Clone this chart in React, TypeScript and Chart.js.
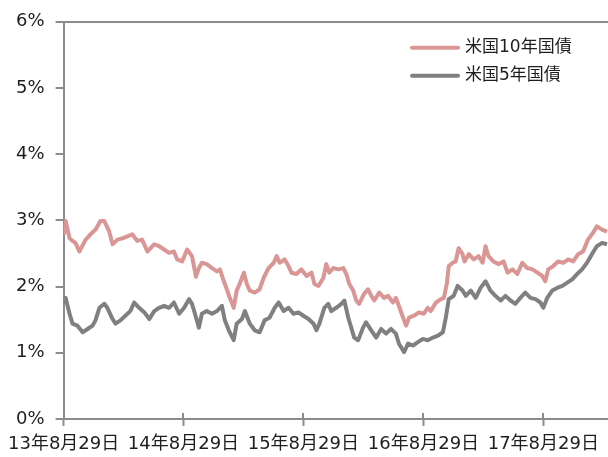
import React, { useEffect, useRef } from "react";
import { Chart, registerables } from "chart.js";

Chart.register(...registerables);

// Day offsets from 2013-08-29 and yields (%)
const TEN_DAYS = [0,6,18,27,36,48,67,82,97,112,124,139,149,164,179,194,209,224,239,255,276,291,306,321,336,346,361,376,391,403,412,421,436,452,467,476,488,497,506,518,527,536,549,558,567,582,597,609,624,640,649,658,673,685,694,709,724,740,755,764,776,791,800,809,821,837,852,861,870,882,891,900,915,927,937,946,961,976,988,1003,1012,1021,1034,1043,1052,1067,1082,1097,1109,1118,1134,1149,1158,1167,1173,1185,1194,1203,1215,1221,1234,1249,1264,1276,1285,1294,1309,1325,1340,1352,1367,1382,1397,1412,1428,1443,1458,1467,1476,1491,1506,1522,1537,1552,1567,1582,1597,1612,1624,1640,1655];
const TEN_YIELD = [2.78,2.99,2.73,2.69,2.66,2.53,2.71,2.79,2.86,2.99,2.99,2.83,2.64,2.71,2.73,2.76,2.79,2.69,2.71,2.53,2.64,2.61,2.56,2.51,2.53,2.41,2.38,2.56,2.46,2.15,2.28,2.36,2.34,2.28,2.23,2.26,2.08,1.96,1.83,1.68,1.94,2.04,2.21,2.04,1.94,1.91,1.96,2.13,2.28,2.36,2.46,2.36,2.41,2.31,2.21,2.19,2.26,2.16,2.21,2.04,2.01,2.13,2.34,2.21,2.28,2.26,2.28,2.19,2.04,1.94,1.79,1.74,1.89,1.96,1.86,1.79,1.91,1.83,1.86,1.76,1.83,1.71,1.53,1.41,1.53,1.56,1.61,1.59,1.68,1.63,1.76,1.81,1.83,2.04,2.31,2.36,2.38,2.58,2.49,2.38,2.49,2.41,2.46,2.36,2.61,2.46,2.38,2.34,2.38,2.21,2.26,2.19,2.36,2.28,2.26,2.21,2.16,2.08,2.26,2.31,2.38,2.36,2.41,2.38,2.49,2.53,2.71,2.81,2.91,2.86,2.83];

const FIVE_DAYS = [0,6,18,27,42,58,73,88,97,109,124,133,149,158,173,188,203,215,230,246,261,276,291,306,321,336,352,367,382,391,400,412,421,436,452,467,482,491,503,518,527,543,552,567,582,597,612,627,643,655,670,685,700,715,730,746,761,770,779,794,806,815,830,846,855,867,876,885,897,912,921,937,952,967,982,997,1012,1021,1037,1049,1064,1079,1094,1109,1125,1140,1155,1164,1173,1188,1200,1215,1225,1240,1255,1270,1285,1300,1315,1331,1346,1361,1376,1391,1406,1422,1437,1452,1461,1473,1488,1503,1519,1534,1549,1564,1579,1594,1609,1624,1640,1655];
const FIVE_YIELD = [1.74,1.83,1.59,1.44,1.41,1.31,1.36,1.41,1.49,1.68,1.74,1.68,1.51,1.44,1.49,1.56,1.63,1.76,1.68,1.61,1.51,1.63,1.68,1.71,1.68,1.76,1.59,1.68,1.81,1.74,1.59,1.38,1.59,1.63,1.59,1.63,1.71,1.49,1.34,1.19,1.44,1.51,1.63,1.44,1.34,1.31,1.49,1.53,1.68,1.76,1.63,1.68,1.59,1.61,1.56,1.51,1.44,1.34,1.44,1.68,1.74,1.63,1.68,1.74,1.79,1.53,1.38,1.23,1.19,1.38,1.46,1.34,1.23,1.36,1.29,1.36,1.29,1.14,1.01,1.14,1.11,1.16,1.21,1.19,1.23,1.26,1.31,1.53,1.81,1.86,2.01,1.94,1.86,1.94,1.83,1.98,2.08,1.94,1.86,1.79,1.86,1.79,1.74,1.83,1.91,1.83,1.81,1.76,1.68,1.83,1.94,1.98,2.01,2.06,2.11,2.19,2.26,2.36,2.49,2.61,2.66,2.64];

const SERIES_NAMES = ["米国10年国債", "米国5年国債"];
const X_TICK_DAYS = [0, 365, 730, 1096, 1461];
const X_TICK_LABELS = ["13年8月29日", "14年8月29日", "15年8月29日", "16年8月29日", "17年8月29日"];
const Y_TICKS = [0, 1, 2, 3, 4, 5, 6];

const AXIS_COLOR = "#8c8c8c";
const TEXT_COLOR = "#1e1e1e";
const FONT = '"DejaVu Sans", "Noto Sans CJK JP", sans-serif';
const COLORS = ["#d99694", "#808080"];

const crossTicks = {
  id: "crossTicks",
  afterDraw(chart: any) {
    const { ctx, chartArea } = chart;
    const xs = chart.scales.x;
    ctx.save();
    ctx.strokeStyle = AXIS_COLOR;
    ctx.lineWidth = 2;
    xs.ticks.forEach((t: any) => {
      const px = Math.round(xs.getPixelForValue(t.value));
      ctx.beginPath();
      ctx.moveTo(px, chartArea.bottom - 6);
      ctx.lineTo(px, chartArea.bottom);
      ctx.stroke();
    });
    ctx.restore();
  },
};

const legendPlugin = {
  id: "customLegend",
  afterDraw(chart: any) {
    const { ctx, chartArea } = chart;
    const x0 = chartArea.right - 198;
    let y = chartArea.top + 26;
    ctx.save();
    ctx.font = `17px ${FONT}`;
    ctx.textBaseline = "middle";
    chart.data.datasets.forEach((ds: any) => {
      ctx.strokeStyle = ds.borderColor;
      ctx.lineWidth = 4;
      ctx.lineCap = "round";
      ctx.beginPath();
      ctx.moveTo(x0 + 2, y);
      ctx.lineTo(x0 + 48, y);
      ctx.stroke();
      ctx.fillStyle = TEXT_COLOR;
      ctx.fillText(ds.label, x0 + 55, y);
      y += 28;
    });
    ctx.restore();
  },
};

export default function App() {
  const ref = useRef<HTMLCanvasElement | null>(null);
  useEffect(() => {
    document.body.style.margin = "0";
    const canvas = ref.current;
    if (!canvas) return;
    const chart = new Chart(canvas, {
      type: "line",
      data: {
        datasets: [
          {
            label: SERIES_NAMES[0],
            data: TEN_DAYS.map((d, i) => ({ x: d, y: TEN_YIELD[i] })),
            borderColor: COLORS[0],
            backgroundColor: COLORS[0],
            borderWidth: 4,
            pointRadius: 0,
            tension: 0,
            borderJoinStyle: "round",
          },
          {
            label: SERIES_NAMES[1],
            data: FIVE_DAYS.map((d, i) => ({ x: d, y: FIVE_YIELD[i] })),
            borderColor: COLORS[1],
            backgroundColor: COLORS[1],
            borderWidth: 4,
            pointRadius: 0,
            tension: 0,
            borderJoinStyle: "round",
          },
        ],
      },
      options: {
        animation: false,
        responsive: false,
        layout: { padding: { top: 19, right: 0, left: 0, bottom: 0 } },
        plugins: { legend: { display: false }, tooltip: { enabled: false } },
        scales: {
          x: {
            type: "linear",
            min: 0,
            max: 1658,
            afterBuildTicks: (scale: any) => {
              scale.ticks = X_TICK_DAYS.map((v) => ({ value: v }));
            },
            afterFit: (scale: any) => {
              scale.height = 38;
            },
            ticks: {
              autoSkip: false,
              maxRotation: 0,
              padding: 8,
              color: TEXT_COLOR,
              font: { family: FONT, size: 18 },
              callback: (v: any) => {
                const i = X_TICK_DAYS.indexOf(Number(v));
                return i >= 0 ? X_TICK_LABELS[i] : "";
              },
            },
            grid: {
              drawOnChartArea: false,
              drawTicks: true,
              tickLength: 7,
              tickWidth: 2,
              tickColor: AXIS_COLOR,
            },
            border: { display: true, color: AXIS_COLOR, width: 2 },
          },
          y: {
            min: 0,
            max: 6,
            afterBuildTicks: (scale: any) => {
              scale.ticks = Y_TICKS.map((v) => ({ value: v }));
            },
            afterFit: (scale: any) => {
              scale.width = 61;
            },
            ticks: {
              padding: 11,
              color: TEXT_COLOR,
              font: { family: FONT, size: 18 },
              callback: (v: any) => `${v}%`,
            },
            grid: {
              drawOnChartArea: true,
              color: (c: any) => (c.tick && c.tick.value === 6 ? AXIS_COLOR : "rgba(0,0,0,0)"),
              lineWidth: 2,
              tickLength: 8,
              tickWidth: 2,
              tickColor: AXIS_COLOR,
            },
            border: { display: true, color: AXIS_COLOR, width: 2 },
          },
        },
      },
      plugins: [crossTicks, legendPlugin],
    });
    return () => chart.destroy();
  }, []);
  return (
    <div style={{ width: 608, height: 457, background: "#fff" }}>
      <canvas ref={ref} width={608} height={457} />
    </div>
  );
}
